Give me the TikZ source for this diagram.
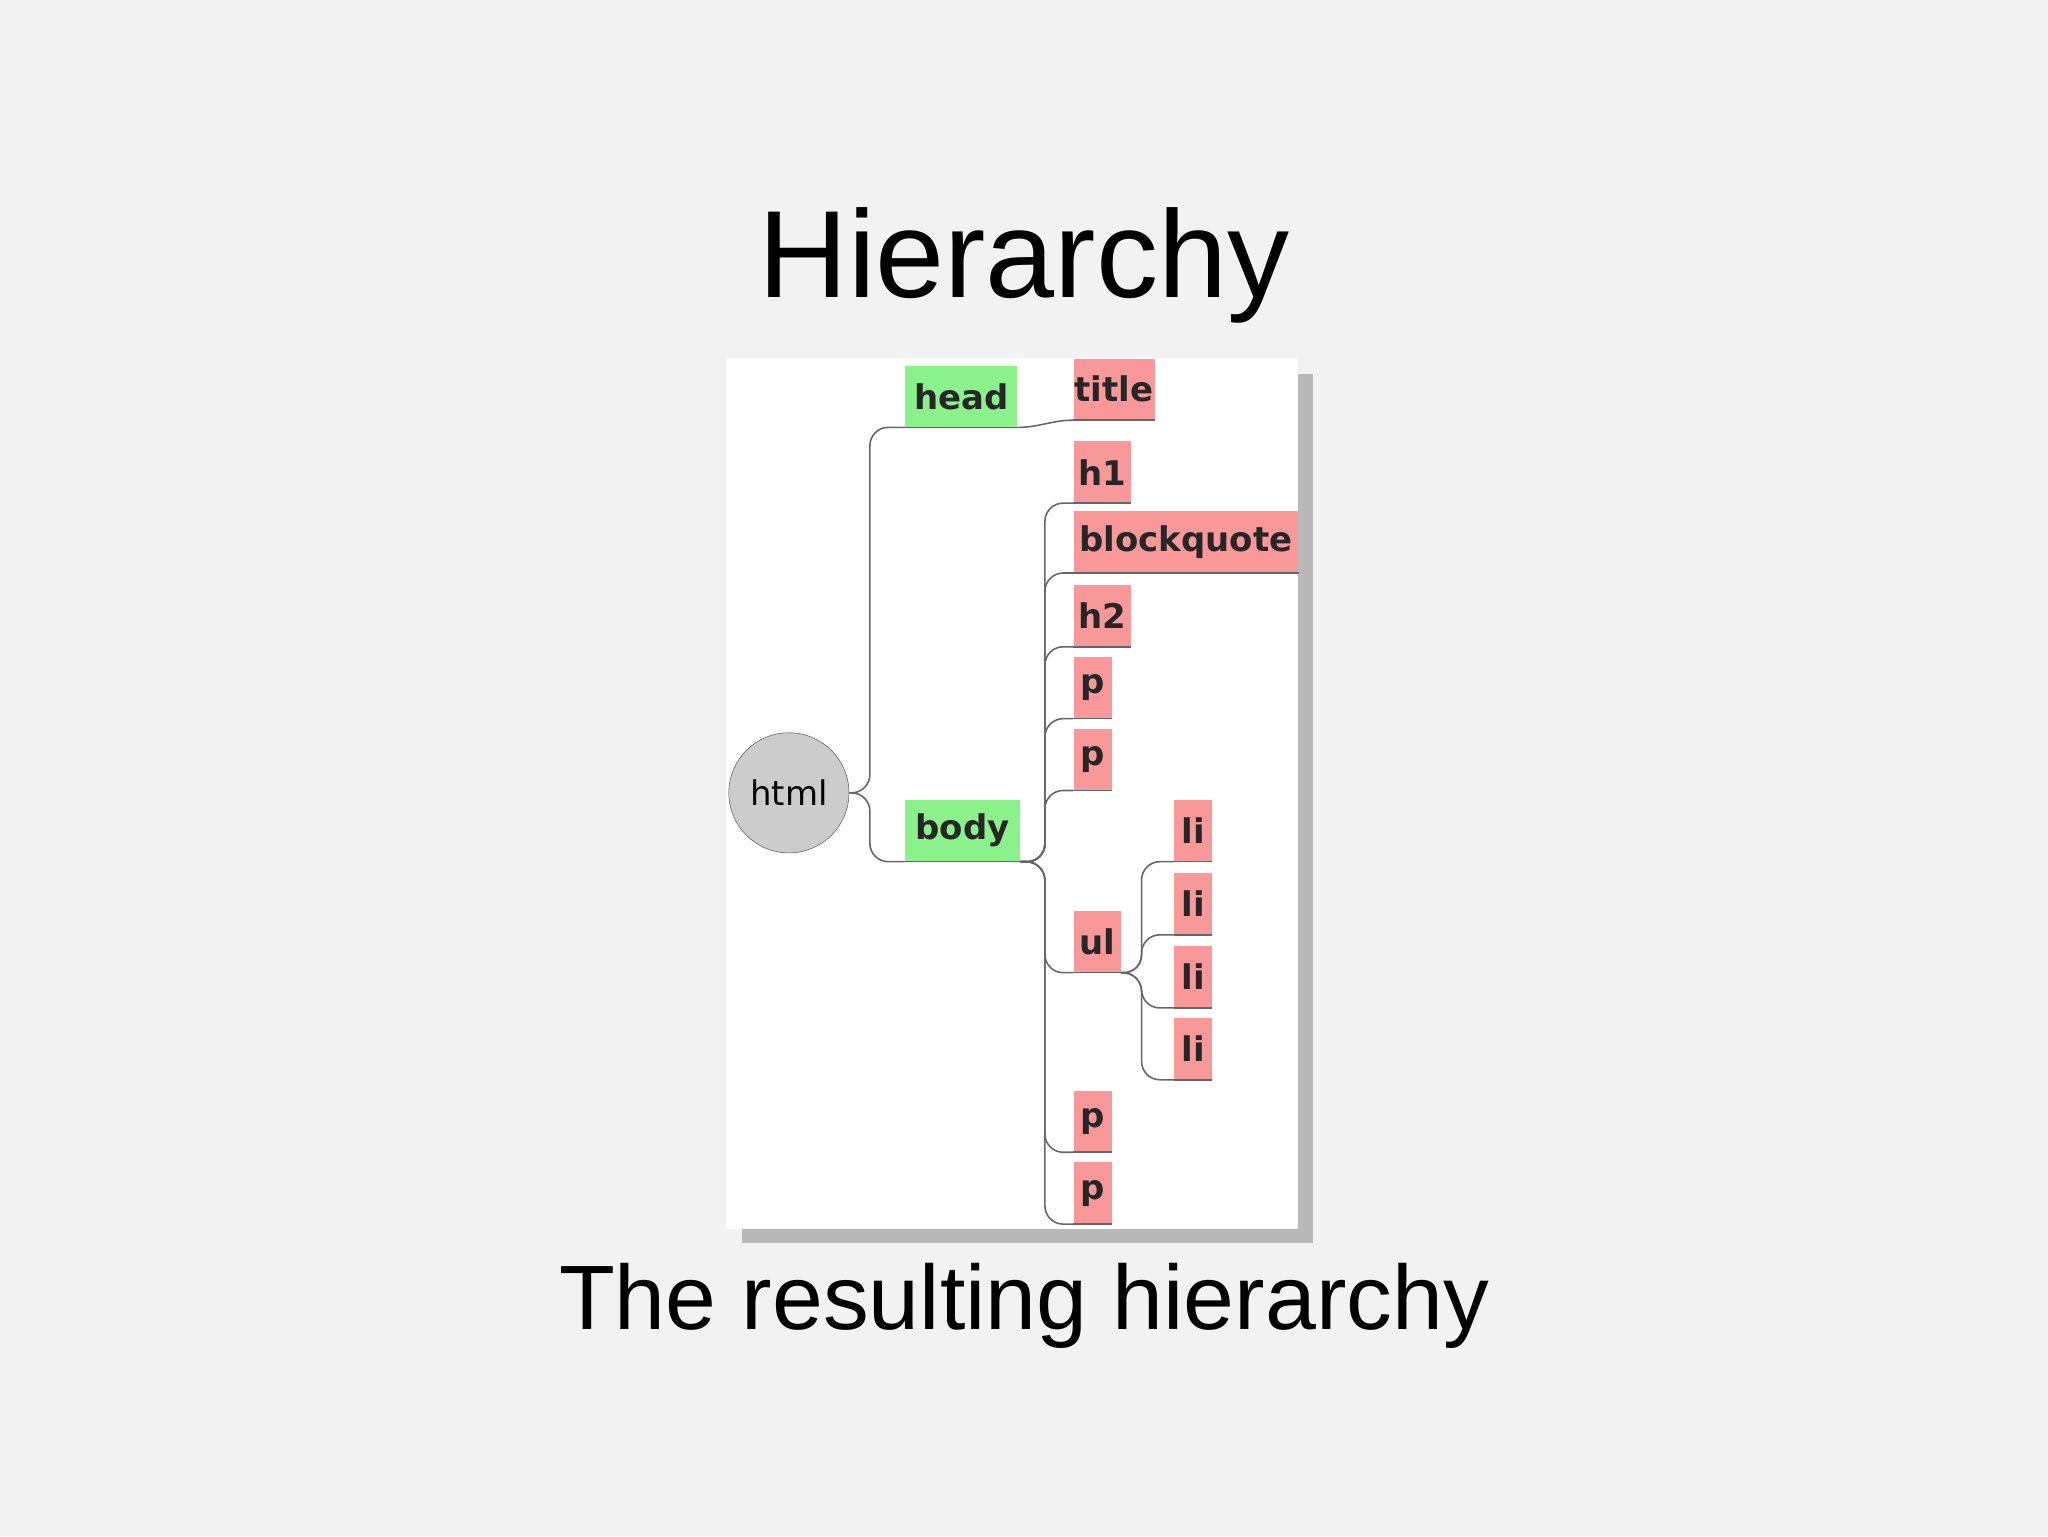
\documentclass[tikz,border=0pt]{standalone}
\usepackage{fontspec}
\setmainfont{Liberation Sans}
\newfontfamily\lbl{DejaVu Sans}
\begin{document}
\begin{tikzpicture}[x=1pt,y=-1pt,
 bx/.style={inner sep=0pt,minimum height=47pt,font=\lbl\bfseries\fontsize{26}{28}\selectfont,text=black!85},
 gb/.style={bx,fill=green!45!white!90!gray},
 pb/.style={bx,fill=red!40!white!95!gray},
 ln/.style={draw=gray!80!black,line width=1.2pt,rounded corners=14pt}]
\definecolor{bg}{HTML}{F2F2F3}
\fill[bg] (0,0) rectangle (1568,1176);
\useasboundingbox (0,0) rectangle (1568,1176);
\node[font=\fontsize{95}{100}\selectfont] (t) at (784,203) {Hierarchy};
\node[font=\fontsize{70}{74}\selectfont] (s) at (784,1000) {The resulting hierarchy};
\fill[gray!55] (568,286) rectangle (1005,952);
\fill[white] (556,274) rectangle (994,941);
\node[circle,draw=gray!70!black,fill=gray!40,minimum size=92pt,inner sep=0pt,font=\lbl\fontsize{26}{28}\selectfont] (html) at (604,607) {html};
\node[gb,minimum width=86pt] (head) at (736,303.5) {head};
\node[gb,minimum width=88pt] (body) at (737,636) {body};
\node[pb,minimum width=62pt] (title) at (853,298) {title};
\node[pb,minimum width=44pt] (h1) at (844,361.5) {h1};
\node[pb,minimum width=172pt] (bq) at (908,415) {blockquote};
\node[pb,minimum width=44pt] (h2) at (844,471.5) {h2};
\node[pb,minimum width=29pt] (p1) at (836.5,526.5) {p};
\node[pb,minimum width=29pt] (p2) at (836.5,581.5) {p};
\node[pb,minimum width=36pt] (ul) at (840,721) {ul};
\node[pb,minimum width=29pt] (li1) at (913.5,636) {li};
\node[pb,minimum width=29pt] (li2) at (913.5,692) {li};
\node[pb,minimum width=29pt] (li3) at (913.5,748) {li};
\node[pb,minimum width=29pt] (li4) at (913.5,803) {li};
\node[pb,minimum width=29pt] (p3) at (836.5,858.5) {p};
\node[pb,minimum width=29pt] (p4) at (836.5,913.5) {p};
\foreach \n in {head,body,title,h1,bq,h2,p1,p2,ul,li1,li2,li3,li4,p3,p4}
  \draw[ln] (\n.south west) -- (\n.south east);
\coordinate (hx) at (666,607);
\coordinate (bx) at (800,660);
\coordinate (ux) at (874,745);
\draw[ln] (html.east) -- (hx) |- (head.south west);
\draw[ln] (html.east) -- (hx) |- (body.south west);
\draw[ln] (head.south east) to[out=0,in=180] (title.south west);
\foreach \n in {h1,bq,h2,p1,p2,ul,p3,p4}
  \draw[ln] (body.south east) -- (bx) |- (\n.south west);
\foreach \n in {li1,li2,li3,li4}
  \draw[ln] (ul.south east) -- (ux) |- (\n.south west);
\end{tikzpicture}
\end{document}
